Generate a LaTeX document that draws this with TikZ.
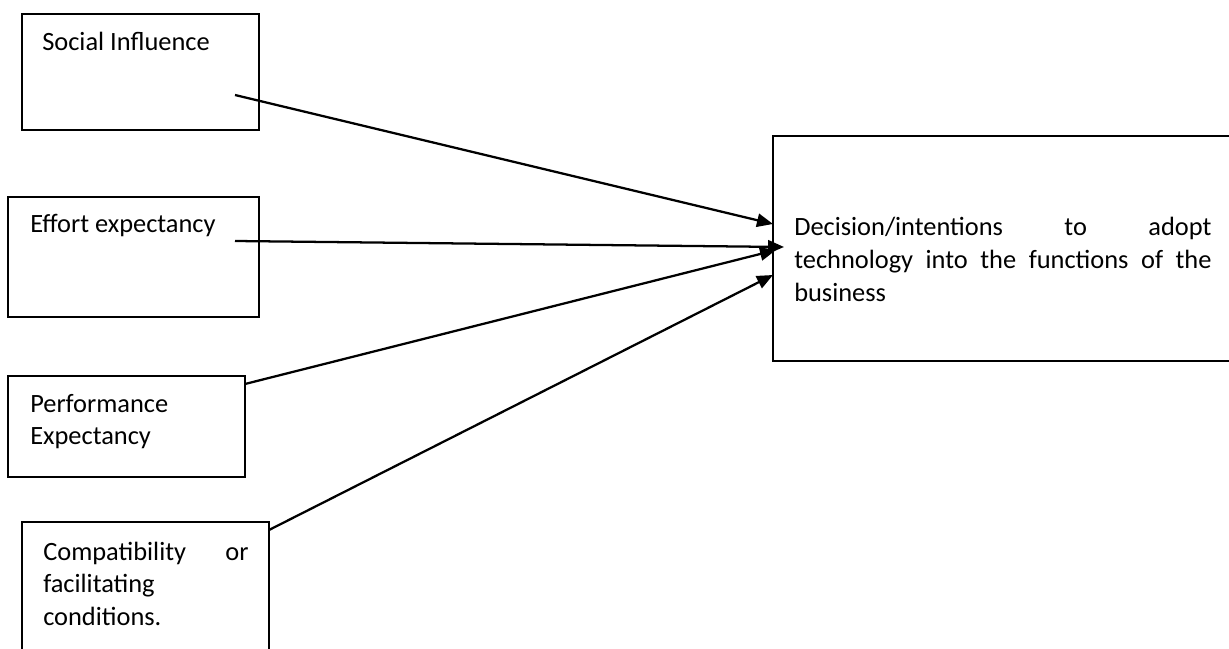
\documentclass[tikz,border=0pt]{standalone}
\usepackage{fontspec}
\setmainfont{Carlito}
\usetikzlibrary{fit,arrows.meta}
\begin{document}
\begin{tikzpicture}[x=0.75pt,y=-0.75pt,
  box/.style={draw=black,line width=1.6pt,inner sep=0pt},
  lbl/.style={anchor=base west,inner sep=0pt,font=\fontsize{19.8}{24.4}\selectfont},
  conn/.style={line width=1.7pt,-{Triangle[length=12pt,width=10pt]}}]
\useasboundingbox (0,0) rectangle (1229,649);
\fill[white] (0,0) rectangle (1229,649);
% boxes
\node[box,fit={(22,14) (259,130)}] (b1) {};
\node[box,fit={(8,197) (259,317)}] (b2) {};
\node[box,fit={(8,376) (245,477)}] (b3) {};
\node[box,fit={(22,522) (269,670)}] (b4) {};
\node[box,fit={(773,136) (1245,361)}] (goal) {};
% texts
\node[lbl] (t1) at (42,51) {Social Influence};
\node[lbl] (t2) at (30,233) {Effort expectancy};
\node[lbl,text width=200pt,align=left] (t3) at (30,412) {Performance\\Expectancy};
\node[lbl,text width=154pt,align=left] (t4) at (43,560) {\leavevmode\hbox to 154pt{Compatibility\hfill or}\\facilitating\\conditions.};
\node[lbl,text width=313pt,align=left] (t5) at (794,236) {\leavevmode\hbox to 313pt{Decision/intentions\hfill to\hfill adopt}\\\leavevmode\hbox to 313pt{technology\hfill into\hfill the\hfill functions\hfill of\hfill the}\\business};
% connector end points
\coordinate (s1) at (235,95);
\coordinate (s2) at (235,241);
\coordinate (s3) at (245,384);
\coordinate (s4) at (269,530);
\coordinate (e1) at (773,224);
\coordinate (e2) at (784,247);
\coordinate (e3) at (776,250);
\coordinate (e4) at (773,275);
\draw[conn] (s1) -- (e1);
\draw[conn] (s2) -- (e2);
\draw[conn] (s3) -- (e3);
\draw[conn] (s4) -- (e4);
\end{tikzpicture}
\end{document}
